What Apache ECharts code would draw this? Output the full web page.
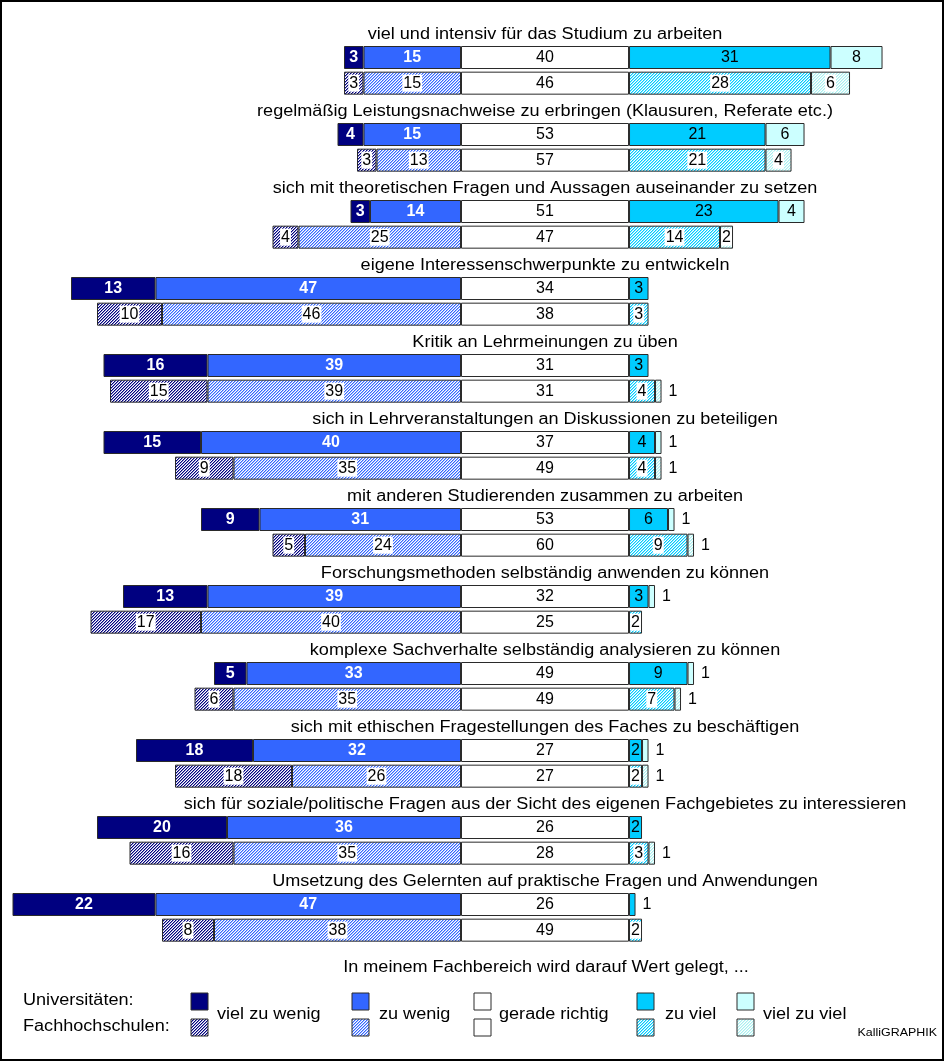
<!DOCTYPE html>
<html><head><meta charset="utf-8">
<script src="https://cdn.jsdelivr.net/npm/echarts@6/dist/echarts.min.js"></script>
<style>html,body{margin:0;padding:0;background:#fff}#c{width:946px;height:1063px}</style>
</head><body><div id="c"></div>
<script>
const titles = [
  'viel und intensiv für das Studium zu arbeiten',
  'regelmäßig Leistungsnachweise zu erbringen (Klausuren, Referate etc.)',
  'sich mit theoretischen Fragen und Aussagen auseinander zu setzen',
  'eigene Interessenschwerpunkte zu entwickeln',
  'Kritik an Lehrmeinungen zu üben',
  'sich in Lehrveranstaltungen an Diskussionen zu beteiligen',
  'mit anderen Studierenden zusammen zu arbeiten',
  'Forschungsmethoden selbständig anwenden zu können',
  'komplexe Sachverhalte selbständig analysieren zu können',
  'sich mit ethischen Fragestellungen des Faches zu beschäftigen',
  'sich für soziale/politische Fragen aus der Sicht des eigenen Fachgebietes zu interessieren',
  'Umsetzung des Gelernten auf praktische Fragen und Anwendungen'
];
const uniVielZuWenig = [3, 4, 3, 13, 16, 15, 9, 13, 5, 18, 20, 22];
const uniZuWenig     = [15, 15, 14, 47, 39, 40, 31, 39, 33, 32, 36, 47];
const uniGerade      = [40, 53, 51, 34, 31, 37, 53, 32, 49, 27, 26, 26];
const uniZuViel      = [31, 21, 23, 3, 3, 4, 6, 3, 9, 2, 2, 1];
const uniVielZuViel  = [8, 6, 4, 0, 0, 1, 1, 1, 1, 1, 0, 0];
const fhVielZuWenig  = [3, 3, 4, 10, 15, 9, 5, 17, 6, 18, 16, 8];
const fhZuWenig      = [15, 13, 25, 46, 39, 35, 24, 40, 35, 26, 35, 38];
const fhGerade       = [46, 57, 47, 38, 31, 49, 60, 25, 49, 27, 28, 49];
const fhZuViel       = [28, 21, 14, 3, 4, 4, 9, 2, 7, 2, 3, 2];
const fhVielZuViel   = [6, 4, 2, 0, 1, 1, 1, 0, 1, 1, 1, 0];
const categoryNames = ['viel zu wenig', 'zu wenig', 'gerade richtig', 'zu viel', 'viel zu viel'];
const MID_WIDTH = 25.85; // fixed width of the "gerade richtig" box (axis units)

const FONT = '"Liberation Sans", Arial, sans-serif';
const STRETCH = 1.13;
const COLORS = ['#000080', '#3366ff', '#ffffff', '#00ccff', '#ccffff'];
const HATCH = ['#000080', '#3366ff', '#ffffff', '#00ccff', '#a8f0f0'];
function hatch(color) {
  const c = document.createElement('canvas');
  c.width = 3; c.height = 3;
  const ctx = c.getContext('2d');
  ctx.fillStyle = '#fff'; ctx.fillRect(0, 0, 3, 3);
  for (let x = 0; x < 3; x++) for (let y = 0; y < 3; y++) {
    const m = (x + y) % 3;
    if (m === 0) { ctx.globalAlpha = 1; ctx.fillStyle = color; ctx.fillRect(x, y, 1, 1); }
    else if (m === 1) { ctx.globalAlpha = 0.45; ctx.fillStyle = color; ctx.fillRect(x, y, 1, 1); }
  }
  ctx.globalAlpha = 1;
  return { image: c, repeat: 'repeat' };
}
const PATTERNS = HATCH.map(hatch);

const rows = [];
titles.forEach((t, g) => { rows.push('t' + g, 'u' + g, 'f' + g); });

function rowData(arr, kind, sign) {
  const out = [];
  titles.forEach((t, g) => {
    ['t', 'u', 'f'].forEach(k => {
      if (k !== kind || !arr[g]) { out.push('-'); return; }
      const v = arr[g];
      const item = { value: sign * v };
      if (v === 1) item.label = { position: 'right', distance: 6, backgroundColor: 'transparent', color: '#000', fontWeight: 'normal' };
      out.push(item);
    });
  });
  return out;
}
function midData(arr, kind) {
  const out = [];
  titles.forEach((t, g) => {
    ['t', 'u', 'f'].forEach(k => { out.push(k === kind ? { value: MID_WIDTH } : '-'); });
  });
  return out;
}

function barSeries(name, idx, kind, data, fmt) {
  const uni = kind === 'u';
  const darkLabel = uni && idx < 2;
  return {
    name: name, type: 'bar', stack: 's', barWidth: 23,
    data: data,
    itemStyle: { color: uni ? COLORS[idx] : PATTERNS[idx], borderColor: '#2a2a2a', borderWidth: 1 },
    label: {
      show: true, position: 'inside', fontFamily: FONT, fontSize: 16,
      color: darkLabel ? '#fff' : '#000', fontWeight: darkLabel ? 'bold' : 'normal',
      backgroundColor: (!uni && idx !== 2) ? '#fff' : 'transparent', padding: [1, 1, 0, 1],
      formatter: fmt || (p => Math.abs(p.value))
    },
    emphasis: { disabled: true }, animation: false
  };
}
const midFmt = (arr) => (p => arr[Math.floor(p.dataIndex / 3)]);

const series = [
  barSeries('zu wenig U', 1, 'u', rowData(uniZuWenig, 'u', -1)),
  barSeries('viel zu wenig U', 0, 'u', rowData(uniVielZuWenig, 'u', -1)),
  barSeries('zu wenig F', 1, 'f', rowData(fhZuWenig, 'f', -1)),
  barSeries('viel zu wenig F', 0, 'f', rowData(fhVielZuWenig, 'f', -1)),
  barSeries('gerade richtig U', 2, 'u', midData(uniGerade, 'u'), midFmt(uniGerade)),
  barSeries('gerade richtig F', 2, 'f', midData(fhGerade, 'f'), midFmt(fhGerade)),
  barSeries('zu viel U', 3, 'u', rowData(uniZuViel, 'u', 1)),
  barSeries('zu viel F', 3, 'f', rowData(fhZuViel, 'f', 1)),
  barSeries('viel zu viel U', 4, 'u', rowData(uniVielZuViel, 'u', 1)),
  barSeries('viel zu viel F', 4, 'f', rowData(fhVielZuViel, 'f', 1)),
  {
    name: 'titles', type: 'custom', silent: true, animation: false,
    data: titles.map((t, g) => [MID_WIDTH / 2, 't' + g]),
    renderItem: (params, api) => {
      const p = api.coord([api.value(0), api.value(1)]);
      return {
        type: 'text', x: p[0], y: p[1] + 3, scaleX: STRETCH,
        style: { text: titles[params.dataIndex], font: '16px ' + FONT, fill: '#000', textAlign: 'center', textVerticalAlign: 'middle' }
      };
    }
  }
];

// legend (custom two-row swatches)
const legendX = [191, 352, 474, 637, 737];
const legendLabelX = [217, 379, 499, 665, 763];
function txt(x, y, s, size, align) {
  return { type: 'text', x: x, y: y, scaleX: STRETCH, silent: true,
    style: { text: s, font: size + 'px ' + FONT, fill: '#000', textAlign: align || 'left', textVerticalAlign: 'middle' } };
}
const graphic = [
  { type: 'rect', shape: { x: 1, y: 1, width: 942, height: 1059 }, style: { fill: 'none', stroke: '#000', lineWidth: 2 }, silent: true },
  txt(546, 968, 'In meinem Fachbereich wird darauf Wert gelegt, ...', 16, 'center'),
  txt(23, 1001, 'Universitäten:', 16),
  txt(23, 1027, 'Fachhochschulen:', 16),
  txt(937, 1033, 'KalliGRAPHIK', 11, 'right')
];
categoryNames.forEach((n, i) => {
  graphic.push({ type: 'rect', shape: { x: legendX[i], y: 993, width: 17, height: 17 }, style: { fill: COLORS[i], stroke: '#2a2a2a', lineWidth: 1 } });
  graphic.push({ type: 'rect', shape: { x: legendX[i], y: 1019, width: 17, height: 17 }, style: { fill: PATTERNS[i], stroke: '#2a2a2a', lineWidth: 1 } });
  graphic.push(txt(legendLabelX[i], 1015, n, 16));
});

const chart = echarts.init(document.getElementById('c'), null, { renderer: 'canvas' });
chart.setOption({
  animation: false,
  backgroundColor: '#fff',
  grid: { left: 12.5, right: 43, top: 19, height: 924, containLabel: false },
  xAxis: { type: 'value', min: -69, max: 68, show: false, splitLine: { show: false } },
  yAxis: { type: 'category', data: rows, inverse: true, show: false },
  series: series,
  graphic: graphic
});
</script></body></html>
